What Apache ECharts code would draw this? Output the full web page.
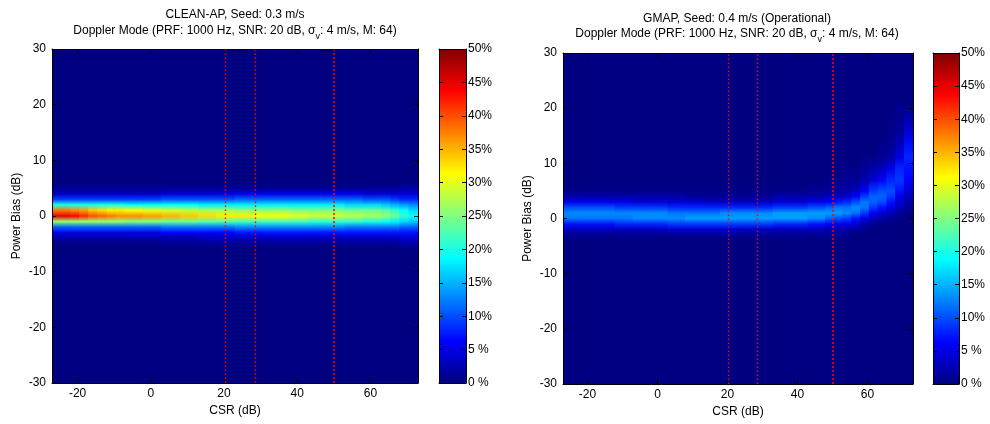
<!DOCTYPE html>
<html><head><meta charset="utf-8">
<script src="https://cdn.jsdelivr.net/npm/echarts@6/dist/echarts.min.js"></script>
<style>html,body{margin:0;padding:0;background:#fff}#c{width:990px;height:424px}</style>
</head><body><div id="c"></div>
<script>
// ---------------- data ----------------
// CLEAN-AP: CSR column edges (dB) and % of cases at each power-bias value (rows), one list per CSR column
const cleanCsrEdges = [-27,-24.5,-22,-19.5,-17,-14.5,-12,-9.5,-7,-2,3,8,13,18,23,28,33,38,43,48,53,58,63,65.5,68,70.5,73];
const cleanBias = [5,4,3,2,1,0,-1,-2,-3,-4,-5];
const cleanPct = [
  [1,3,9,20,38,45,26,11,5,2,0],
  [1,3,9,20,38,45,26,11,5,2,0],
  [1,3,9,20,37,44,26,11,5,2,0],
  [1,3,9,20,36,42,26,11,5,2,0],
  [1,3,9,20,34,40,26,11,5,2,0],
  [1,3,9,20,33,39,26,11,5,2,0],
  [1,3,9,20,32,38,26,11,5,2,0],
  [1,3,9,20,32,37,26,11,5,2,0],
  [1,3,9,19,31,37,25,11,5,2,0],
  [1,3,9,19,30,36,25,11,5,2,0],
  [1,4,10,19,29,35,24,12,6,2,1],
  [1,4,10,19,28,34,24,12,6,2,1],
  [1,4,10,18,27,33,23,12,6,3,1],
  [1,4,10,18,27,32,23,12,6,3,1],
  [1,5,11,18,26,32,22,13,7,3,1],
  [1,5,11,18,26,31,22,13,7,3,1],
  [1,5,11,18,26,31,22,13,7,3,1],
  [1,5,11,18,25,30,22,13,7,3,1],
  [1,5,11,18,25,29,21,13,7,3,1],
  [1,5,11,18,25,29,21,13,7,3,1],
  [1,5,11,17,24,28,21,12,7,3,1],
  [1,4,10,17,24,27,20,12,7,3,1],
  [1,4,10,16,23,26,19,12,7,3,1],
  [1,4,9,15,21,24,18,12,7,3,1],
  [2,4,8,14,19,21,17,11,7,4,2],
  [2,4,8,13,17,19,16,11,7,4,2]
];

// GMAP
const gmapCsrEdges = [-27,-22,-17,-12,-7,-2,3,8,13,18,23,28,33,38,43,48,50.5,53,55.5,58,60.5,63,65.5,68,70.5,73];
const gmapBias = [20,16,13,11,9,7,5,4,3,2,1,0,-1,-2,-3,-4,-5];
const gmapPct = [
  [0,0,0,0,0,0,0.5,2,5,10,13,12,7,3,1,0,0],
  [0,0,0,0,0,0,0.5,2,5,10,13,12,7,3,1,0,0],
  [0,0,0,0,0,0,0.5,2,5,10,13,12,7,3,1,0,0],
  [0,0,0,0,0,0,0.5,2,5,9,13,12,8,3,1,0,0],
  [0,0,0,0,0,0,0.5,2,4,9,13,13,8,3,1,0,0],
  [0,0,0,0,0,0,0.5,2,4,9,13,13,8,3,1,0,0],
  [0,0,0,0,0,0,0.5,2,4,8,12,13,9,4,1,0,0],
  [0,0,0,0,0,0,0.5,1,4,8,12,14,9,4,1,0,0],
  [0,0,0,0,0,0,0.5,1,3,8,12,14,9,4,1,0,0],
  [0,0,0,0,0,0,0.5,1,3,8,13,14,9,4,1,0,0],
  [0,0,0,0,0,0,0.5,1,3,8,13,14,9,3,1,0,0],
  [0,0,0,0,0,0,0.5,1,3,8,13,14,9,3,1,0,0],
  [0,0,0,0,0,0,0.5,2,4,9,14,14,8,3,1,0,0],
  [0,0,0,0,0,0,0.5,2,4,9,14,14,8,3,1,0,0],
  [0,0,0,0,0,0,1,2,5,10,14,13,7,3,1,0,0],
  [0,0,0,0,0,0.5,1,3,6,11,14,11,6,2,1,0,0],
  [0,0,0,0,0,0.5,1.5,3,7,12,14,10,5,2,1,0,0],
  [0,0,0,0,0.5,1,2,4,8,12,13,9,5,2,0.5,0,0],
  [0,0,0,0,0.5,1,3,6,10,13,12,7,4,1,0,0,0],
  [0,0,0,0.5,1,2,6,9,12,12,9,5,2,1,0,0,0],
  [0,0,0,0.5,2,4,9,11,11,9,6,3,1,0,0,0,0],
  [0,0,0.5,1,3,6,10,11,10,7,4,2,0.5,0,0,0,0],
  [0,0.5,1,2,5,8,10,9,7,5,3,1,0,0,0,0,0],
  [0.5,1,3,5,8,9,7,5,4,3,1,0.5,0,0,0,0,0],
  [1,4,7,8,7,6,4,3,2,1,0.5,0,0,0,0,0,0]
];

const thresholdCsr = [20.3, 28.4, 50.1];
const xTicks = [-20, 0, 20, 40, 60];
const yTicks = [-30, -20, -10, 0, 10, 20, 30];
const cbTicks = [0,5,10,15,20,25,30,35,40,45,50];
const cbLabels = ['0 %','5 %','10%','15%','20%','25%','30%','35%','40%','45%','50%'];
const titleLeft = ['CLEAN-AP, Seed: 0.3 m/s', 'Doppler Mode (PRF: 1000 Hz, SNR: 20 dB, σ{sub|v}: 4 m/s, M: 64)'];
const titleRight = ['GMAP, Seed: 0.4 m/s (Operational)', 'Doppler Mode (PRF: 1000 Hz, SNR: 20 dB, σ{sub|v}: 4 m/s, M: 64)'];

// ---------------- rendering ----------------
const FONT = '"Liberation Sans", Arial, Helvetica, sans-serif';
const jet = ['#000080','#0000FF','#0080FF','#00FFFF','#80FF80','#FFFF00','#FF8000','#FF0000','#800000'];
const PCT_MAX = 50;
function jetColor(v){ return echarts.color.lerp(Math.max(0, Math.min(1, v / PCT_MAX)), jet); }

function bandRender(bias, pct){
  return function(params, api){
    const x0 = api.value(0), i = api.value(1), x1 = api.value(2);
    const col = pct[i];
    const topB = bias[0] + 1, botB = bias[bias.length - 1] - 1;
    const pL = api.coord([x0, topB]);
    const pR = api.coord([x1, botB]);
    const span = topB - botB;
    const stops = [{offset: 0, color: jetColor(0)}];
    bias.forEach((b, j) => stops.push({offset: (topB - b) / span, color: jetColor(col[j])}));
    stops.push({offset: 1, color: jetColor(0)});
    return {type: 'rect',
      shape: {x: pL[0] - 0.4, y: pL[1], width: pR[0] - pL[0] + 0.8, height: pR[1] - pL[1]},
      style: {fill: new echarts.graphic.LinearGradient(0, 0, 0, 1, stops)}};
  };
}
function cbRender(params, api){
  const p0 = api.coord([0, PCT_MAX]), p1 = api.coord([1, 0]);
  const stops = jet.map((c, k) => ({offset: 1 - k / (jet.length - 1), color: c})).reverse();
  return {type: 'rect', shape: {x: p0[0], y: p0[1], width: p1[0] - p0[0], height: p1[1] - p0[1]},
    style: {fill: new echarts.graphic.LinearGradient(0, 0, 0, 1, stops)}};
}

const lineBox = {show: true, onZero: false, lineStyle: {color: '#000', width: 1}};
const tickIn = (vals) => ({show: true, inside: true, length: 4, customValues: vals, lineStyle: {color: '#000'}});
const lbl = {color: '#000', fontSize: 12, fontFamily: FONT};

function mainX(g, pos, show){
  return {type: 'value', gridIndex: g, position: pos, min: -27, max: 73, z: 10,
    axisLine: lineBox, splitLine: {show: false}, axisTick: tickIn(xTicks),
    axisLabel: show ? Object.assign({show: true, customValues: xTicks, margin: 5}, lbl) : {show: false},
    name: show ? 'CSR (dB)' : '', nameLocation: 'middle', nameGap: 13,
    nameTextStyle: {color: '#000', fontSize: 12, fontFamily: FONT}};
}
function mainY(g, pos, show){
  return {type: 'value', gridIndex: g, position: pos, min: -30, max: 30, interval: 10, z: 10,
    axisLine: lineBox, splitLine: {show: false}, axisTick: tickIn(yTicks),
    axisLabel: show ? Object.assign({show: true, margin: 6}, lbl) : {show: false},
    name: show ? 'Power Bias (dB)' : '', nameLocation: 'middle', nameGap: 29,
    nameTextStyle: {color: '#000', fontSize: 12, fontFamily: FONT}};
}
function cbX(g, pos){
  return {type: 'value', gridIndex: g, position: pos, min: 0, max: 1, z: 10,
    axisLine: lineBox, splitLine: {show: false}, axisTick: {show: false}, axisLabel: {show: false}};
}
function cbY(g, pos, show){
  return {type: 'value', gridIndex: g, position: pos, min: 0, max: PCT_MAX, interval: 5, z: 10,
    axisLine: lineBox, splitLine: {show: false}, axisTick: tickIn(cbTicks),
    axisLabel: show ? Object.assign({show: true, margin: 2, formatter: v => cbLabels[cbTicks.indexOf(v)]}, lbl) : {show: false}};
}

function titleText(x, y, txt){
  return {type: 'text', x: x, y: y, z: 20,
    style: {text: txt, fill: '#000', fontSize: 12, fontFamily: FONT, lineHeight: 20,
      align: 'center', verticalAlign: 'middle',
      rich: {sub: {fontSize: 9, fontFamily: FONT, lineHeight: 10, verticalAlign: 'bottom', fill: '#000'}}}};
}

function markLines(){
  return {silent: true, symbol: ['none', 'none'], label: {show: false}, animation: false,
    data: thresholdCsr.map((v, k) => ({xAxis: v,
      lineStyle: {color: '#FF0000', width: k === 2 ? 1.5 : 1.3, type: k === 2 ? [2, 2] : [1.5, 2.5]}}))};
}

function cols(edges){ return edges.slice(0, -1).map((e, i) => [e, i, edges[i + 1]]); }

const chart = echarts.init(document.getElementById('c'));
chart.setOption({
  animation: false,
  backgroundColor: '#fff',
  grid: [
    {left: 52, top: 49, width: 366, height: 334, show: true, backgroundColor: '#000080', borderWidth: 0},
    {left: 439, top: 49, width: 27, height: 334},
    {left: 563, top: 53, width: 350, height: 331, show: true, backgroundColor: '#000080', borderWidth: 0},
    {left: 933, top: 53, width: 26, height: 331}
  ],
  xAxis: [mainX(0, 'bottom', true), mainX(0, 'top', false), cbX(1, 'bottom'), cbX(1, 'top'),
          mainX(2, 'bottom', true), mainX(2, 'top', false), cbX(3, 'bottom'), cbX(3, 'top')],
  yAxis: [mainY(0, 'left', true), mainY(0, 'right', false), cbY(1, 'left', false), cbY(1, 'right', true),
          mainY(2, 'left', true), mainY(2, 'right', false), cbY(3, 'left', false), cbY(3, 'right', true)],
  graphic: [
    titleText(235, 15, titleLeft[0]), titleText(235, 31, titleLeft[1]),
    titleText(737, 19, titleRight[0]), titleText(737, 34, titleRight[1])
  ],
  series: [
    {type: 'custom', xAxisIndex: 0, yAxisIndex: 0, clip: true, silent: true,
     data: cols(cleanCsrEdges), renderItem: bandRender(cleanBias, cleanPct), markLine: markLines()},
    {type: 'custom', xAxisIndex: 2, yAxisIndex: 2, silent: true, data: [[0, PCT_MAX]], renderItem: cbRender},
    {type: 'custom', xAxisIndex: 4, yAxisIndex: 4, clip: true, silent: true,
     data: cols(gmapCsrEdges), renderItem: bandRender(gmapBias, gmapPct), markLine: markLines()},
    {type: 'custom', xAxisIndex: 6, yAxisIndex: 6, silent: true, data: [[0, PCT_MAX]], renderItem: cbRender}
  ]
});
</script></body></html>
